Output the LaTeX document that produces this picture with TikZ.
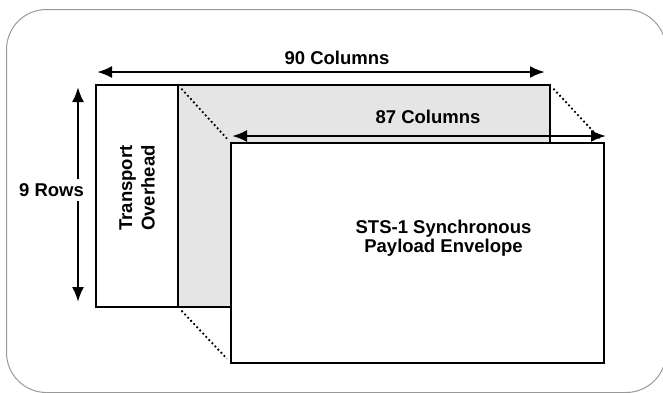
\documentclass[tikz,border=0pt]{standalone}
\usepackage{fontspec}
\setmainfont{Liberation Sans}
\usetikzlibrary{arrows.meta}
\begin{document}
\begin{tikzpicture}[x=1pt,y=-1pt,
  every node/.style={font=\fontsize{18.5}{19}\selectfont\bfseries, inner sep=0pt, outer sep=0pt},
  box/.style={draw=black, line width=2pt, rectangle},
  dotline/.style={line width=1.8pt, dash pattern=on 1.8pt off 2.6pt, shorten <=5pt, shorten >=6pt},
  dimarrow/.style={line width=2.4pt, {Latex[length=15pt,width=12pt]}-{Latex[length=15pt,width=12pt]}},
  lbl/.style={fill=white, inner sep=1pt}
]
\useasboundingbox (0,0) rectangle (663,392);
\clip (0,0) rectangle (663,392);
% outer frame
\draw[color=black!40, line width=1pt, rounded corners=40pt] (6.5,9.5) rectangle (666,392.5);
% shaded frame area
\node[box, fill=black!10, minimum width=372pt, minimum height=222pt] (spe) at (364,196) {};
\node[box, fill=white, minimum width=82pt, minimum height=222pt] (toh) at (137,196) {};
% payload envelope
\node[box, fill=white, minimum width=373pt, minimum height=220pt] (pay) at (417.5,253) {};
% dotted projection lines
\draw[dotline] (spe.north west) -- (pay.north west);
\draw[dotline] (spe.south west) -- (pay.south west);
\draw[dotline] (spe.north east) -- (pay.north east);
% dimension arrows
\coordinate (c90a) at (97,72);
\coordinate (c90b) at (545,72);
\coordinate (c87a) at (232,136);
\coordinate (c87b) at (606,136);
\coordinate (r9a) at (78,87);
\coordinate (r9b) at (78,302);
\draw[dimarrow] (c90a) -- (c90b);
\draw[dimarrow] (c87a) -- (c87b);
\draw[dimarrow] (r9a) -- (r9b);
% labels
\node (l90) at (337,58) {90 Columns};
\node (l87) at (428,116.5) {87 Columns};
\node[lbl, inner ysep=4pt] (l9) at (51.5,190) {9 Rows};
\node[rotate=90, align=center, font=\fontsize{18.5}{22.5}\selectfont\bfseries] (ltoh) at (137,188) {Transport\\Overhead};
\node[align=center] (lpay) at (443.5,238) {STS-1 Synchronous\\Payload Envelope};
\end{tikzpicture}
\end{document}
